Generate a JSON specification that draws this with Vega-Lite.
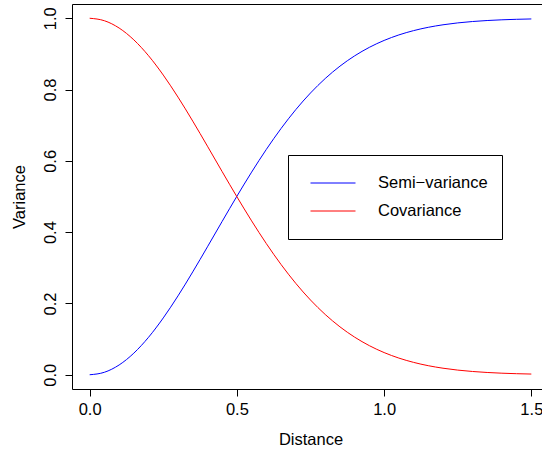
{
  "$schema": "https://vega.github.io/schema/vega-lite/v6.json",
  "width": 477,
  "height": 385,
  "autosize": {"type": "none"},
  "padding": {"left": 72, "top": 4, "right": 0, "bottom": 61},
  "background": "white",
  "config": {
    "view": {"stroke": "black", "strokeWidth": 1},
    "font": "Liberation Sans",
    "axis": {
      "grid": false, "domain": false,
      "tickColor": "black", "tickSize": 7, "tickWidth": 1,
      "labelFont": "Liberation Sans", "labelFontSize": 16.5, "labelColor": "black",
      "titleFont": "Liberation Sans", "titleFontSize": 16.5, "titleFontWeight": "normal", "titleColor": "black"
    }
  },
  "datasets": {
    "curves": [
      {"d":0.00,"v":0.00000,"s":"Semi−variance"},{"d":0.05,"v":0.00692,"s":"Semi−variance"},{"d":0.10,"v":0.02740,"s":"Semi−variance"},{"d":0.15,"v":0.06059,"s":"Semi−variance"},{"d":0.20,"v":0.10516,"s":"Semi−variance"},{"d":0.25,"v":0.15937,"s":"Semi−variance"},{"d":0.30,"v":0.22120,"s":"Semi−variance"},{"d":0.35,"v":0.28843,"s":"Semi−variance"},{"d":0.40,"v":0.35882,"s":"Semi−variance"},{"d":0.45,"v":0.43022,"s":"Semi−variance"},{"d":0.50,"v":0.50065,"s":"Semi−variance"},{"d":0.55,"v":0.56841,"s":"Semi−variance"},{"d":0.60,"v":0.63212,"s":"Semi−variance"},{"d":0.65,"v":0.69075,"s":"Semi−variance"},{"d":0.70,"v":0.74362,"s":"Semi−variance"},{"d":0.75,"v":0.79039,"s":"Semi−variance"},{"d":0.80,"v":0.83099,"s":"Semi−variance"},{"d":0.85,"v":0.86560,"s":"Semi−variance"},{"d":0.90,"v":0.89460,"s":"Semi−variance"},{"d":0.95,"v":0.91848,"s":"Semi−variance"},{"d":1.00,"v":0.93782,"s":"Semi−variance"},{"d":1.05,"v":0.95323,"s":"Semi−variance"},{"d":1.10,"v":0.96530,"s":"Semi−variance"},{"d":1.15,"v":0.97462,"s":"Semi−variance"},{"d":1.20,"v":0.98168,"s":"Semi−variance"},{"d":1.25,"v":0.98697,"s":"Semi−variance"},{"d":1.30,"v":0.99085,"s":"Semi−variance"},{"d":1.35,"v":0.99367,"s":"Semi−variance"},{"d":1.40,"v":0.99568,"s":"Semi−variance"},{"d":1.45,"v":0.99709,"s":"Semi−variance"},{"d":1.50,"v":0.99807,"s":"Semi−variance"},
      {"d":0.00,"v":1.00000,"s":"Covariance"},{"d":0.05,"v":0.99308,"s":"Covariance"},{"d":0.10,"v":0.97260,"s":"Covariance"},{"d":0.15,"v":0.93941,"s":"Covariance"},{"d":0.20,"v":0.89484,"s":"Covariance"},{"d":0.25,"v":0.84063,"s":"Covariance"},{"d":0.30,"v":0.77880,"s":"Covariance"},{"d":0.35,"v":0.71157,"s":"Covariance"},{"d":0.40,"v":0.64118,"s":"Covariance"},{"d":0.45,"v":0.56978,"s":"Covariance"},{"d":0.50,"v":0.49935,"s":"Covariance"},{"d":0.55,"v":0.43159,"s":"Covariance"},{"d":0.60,"v":0.36788,"s":"Covariance"},{"d":0.65,"v":0.30925,"s":"Covariance"},{"d":0.70,"v":0.25638,"s":"Covariance"},{"d":0.75,"v":0.20961,"s":"Covariance"},{"d":0.80,"v":0.16901,"s":"Covariance"},{"d":0.85,"v":0.13440,"s":"Covariance"},{"d":0.90,"v":0.10540,"s":"Covariance"},{"d":0.95,"v":0.08152,"s":"Covariance"},{"d":1.00,"v":0.06218,"s":"Covariance"},{"d":1.05,"v":0.04677,"s":"Covariance"},{"d":1.10,"v":0.03470,"s":"Covariance"},{"d":1.15,"v":0.02538,"s":"Covariance"},{"d":1.20,"v":0.01832,"s":"Covariance"},{"d":1.25,"v":0.01303,"s":"Covariance"},{"d":1.30,"v":0.00915,"s":"Covariance"},{"d":1.35,"v":0.00633,"s":"Covariance"},{"d":1.40,"v":0.00432,"s":"Covariance"},{"d":1.45,"v":0.00291,"s":"Covariance"},{"d":1.50,"v":0.00193,"s":"Covariance"}
    ]
  },
  "data": {"name": "curves"},
  "mark": {"type": "line", "strokeWidth": 1, "interpolate": "monotone", "clip": true},
  "encoding": {
    "x": {
      "field": "d", "type": "quantitative", "title": "Distance",
      "scale": {"domain": [-0.06, 1.56], "nice": false, "zero": false},
      "axis": {"values": [0, 0.5, 1, 1.5], "format": ".1f", "labelPadding": 5, "labelFlush": false,
               "titleY": 55, "titleBaseline": "alphabetic"}
    },
    "y": {
      "field": "v", "type": "quantitative", "title": "Variance",
      "scale": {"domain": [-0.04, 1.04], "nice": false, "zero": false},
      "axis": {"values": [0, 0.2, 0.4, 0.6, 0.8, 1.0], "format": ".1f", "labelAngle": -90,
               "labelAlign": "center", "labelBaseline": "alphabetic", "labelPadding": 10, "labelFlush": false,
               "titleX": -48, "titleBaseline": "alphabetic", "titleAngle": -90}
    },
    "color": {
      "field": "s", "type": "nominal",
      "scale": {"domain": ["Semi−variance", "Covariance"], "range": ["blue", "red"]},
      "legend": {
        "title": null, "orient": "none", "legendX": 216, "legendY": 151,
        "symbolType": "stroke", "symbolSize": 2025, "symbolStrokeWidth": 1, "symbolOffset": 8,
        "labelOffset": 22, "labelFont": "Liberation Sans", "labelFontSize": 16.5, "labelColor": "black",
        "labelLimit": 400,
        "labelExpr": "datum.label + '\u00a0\u00a0\u00a0\u00a0\u00a0\u00a0\u00a0\u00a0\u00a0\u00a0\u00a0\u00a0'",
        "padding": 14, "strokeColor": "black", "fillColor": "white", "rowPadding": 0, "clipHeight": 28
      }
    }
  }
}
